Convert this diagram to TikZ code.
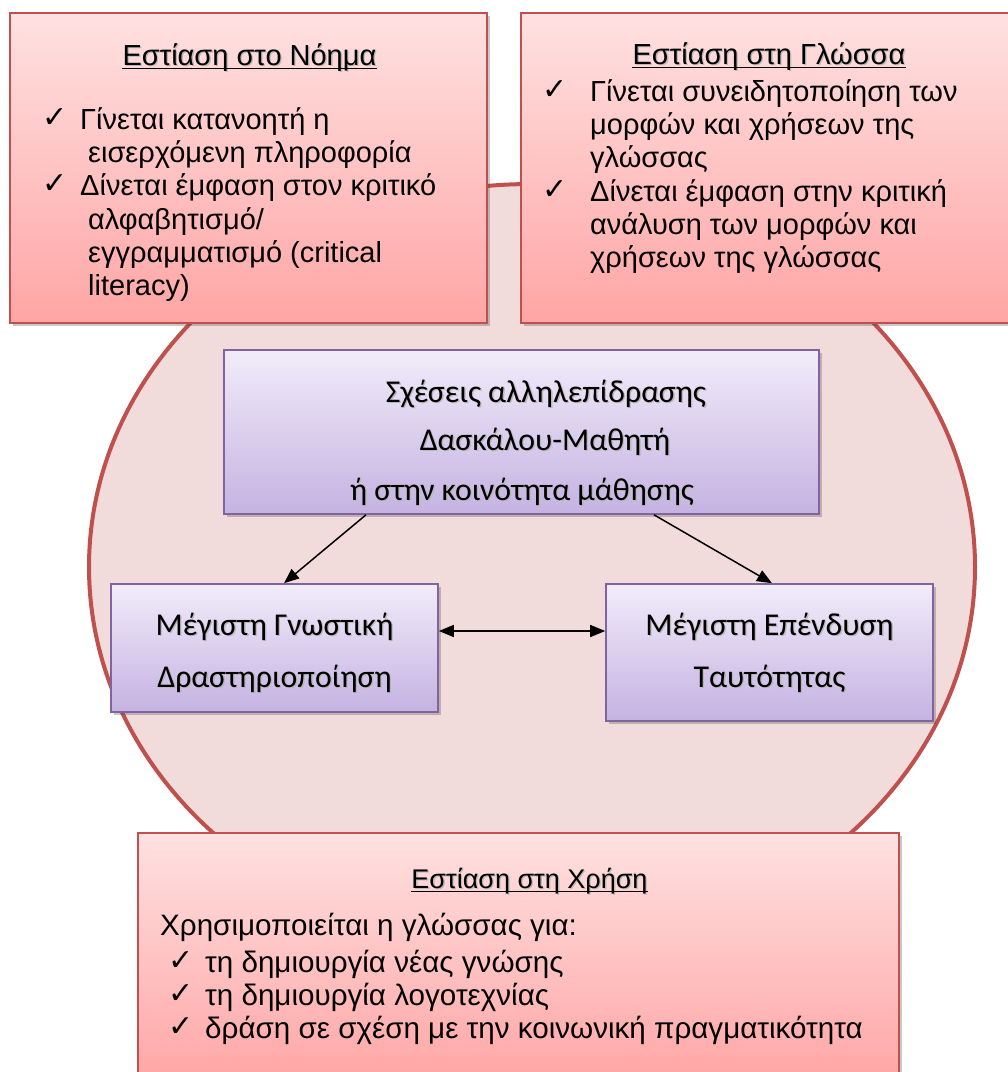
\documentclass[tikz,border=0pt]{standalone}
\usepackage{fontspec}
\setmainfont{Liberation Sans}
\newfontfamily\calfont{Carlito}
\newfontfamily\symfont{DejaVu Sans}
\usetikzlibrary{shadows,calc,arrows.meta}
\definecolor{redline}{HTML}{C0504D}
\definecolor{ellfill}{HTML}{F2DCDB}
\definecolor{pinktop}{HTML}{FFE1E1}
\definecolor{pinkbot}{HTML}{FFA5A5}
\definecolor{purpline}{HTML}{8064A2}
\definecolor{purptop}{HTML}{F1ECF9}
\definecolor{purpbot}{HTML}{C5B2E2}
\newcommand\tsh[1]{\leavevmode\rlap{\kern1.3pt\raisebox{-1.3pt}{\color{black!28}#1}}#1}
\begin{document}
\begin{tikzpicture}[x=1pt,y=-1pt,
  pinkbox/.style={draw=redline, line width=1.6pt, top color=pinktop, bottom color=pinkbot,
    rectangle, inner sep=0pt,
    drop shadow={shadow xshift=3pt,shadow yshift=-3pt,opacity=0.3,fill=black!70}},
  purpbox/.style={draw=purpline, line width=1.6pt, top color=purptop, bottom color=purpbot,
    rectangle, inner sep=0pt,
    drop shadow={shadow xshift=3pt,shadow yshift=-3pt,opacity=0.3,fill=black!70}},
  body/.style={inner sep=0pt, anchor=base west, font=\fontsize{29}{33}\selectfont},
  bodyb/.style={inner sep=0pt, anchor=base west, font=\fontsize{29.6}{33}\selectfont},
  ttl/.style={inner sep=0pt, anchor=base, font=\fontsize{29}{33}\selectfont},
  chk/.style={inner sep=0pt, anchor=base west, font=\symfont\fontsize{30}{33}\selectfont},
  ctr/.style={inner sep=0pt, anchor=base, font=\calfont\fontsize{31.8}{36}\selectfont},
  ul/.style={line width=1.8pt},
  arr/.style={line width=1.5pt, -{Triangle[length=15pt,width=12pt]}},
  darr/.style={line width=1.5pt, {Triangle[length=15pt,width=12pt]}-{Triangle[length=15pt,width=12pt]}}
]
\useasboundingbox (0,0) rectangle (1008,1072);
\fill[white] (0,0) rectangle (1008,1072);

% big ellipse
\draw[redline, fill=ellfill, line width=4pt] (532,567) ellipse [x radius=443pt, y radius=383pt];

% top-left box
\node[pinkbox, minimum width=477pt, minimum height=310pt] (nl) at (248.5,168) {};
\node[ttl] (nlt) at (249.5,65) {\tsh{Εστίαση στο Νόημα}};
\draw[ul] ($(nlt.base west)+(0,3.5)$) -- ($(nlt.base east)+(0,3.5)$);
\node[chk] (nlc1) at (42,127) {✓};
\node[chk] (nlc2) at (42,193) {✓};
\node[body] (nl1) at (80,129) {Γίνεται κατανοητή η};
\node[body] (nl2) at (88,162) {εισερχόμενη πληροφορία};
\node[body] (nl3) at (80,195) {Δίνεται έμφαση στον κριτικό};
\node[body] (nl4) at (88,229) {αλφαβητισμό/};
\node[body] (nl5) at (88,262) {εγγραμματισμό (critical};
\node[body] (nl6) at (88,295) {literacy)};

% top-right box
\node[pinkbox, minimum width=491pt, minimum height=310pt] (gl) at (766.5,168) {};
\node[ttl] (glt) at (769,64) {\tsh{Εστίαση στη Γλώσσα}};
\draw[ul] ($(glt.base west)+(0,3.5)$) -- ($(glt.base east)+(0,3.5)$);
\node[chk] (glc1) at (542,99) {✓};
\node[chk] (glc2) at (542,199) {✓};
\node[body] (gl1) at (590,101) {Γίνεται συνειδητοποίηση των};
\node[body] (gl2) at (590,134) {μορφών και χρήσεων της};
\node[body] (gl3) at (590,167) {γλώσσας};
\node[body] (gl4) at (590,201) {Δίνεται έμφαση στην κριτική};
\node[body] (gl5) at (590,234) {ανάλυση των μορφών και};
\node[body] (gl6) at (590,267) {χρήσεων της γλώσσας};

% bottom box
\node[pinkbox, minimum width=761pt, minimum height=250pt] (xr) at (518.5,958) {};
\node[ttl, font=\fontsize{27}{33}\selectfont] (xrt) at (529.5,888) {\tsh{Εστίαση στη Χρήση}};
\draw[ul] ($(xrt.base west)+(0,3.5)$) -- ($(xrt.base east)+(0,3.5)$);
\node[bodyb] (xr0) at (160,935) {Χρησιμοποιείται η γλώσσας για:};
\node[chk] (xrc1) at (168,970) {✓};
\node[chk] (xrc2) at (168,1003) {✓};
\node[chk] (xrc3) at (168,1036) {✓};
\node[bodyb] (xr1) at (205,972) {τη δημιουργία νέας γνώσης};
\node[bodyb] (xr2) at (205,1005) {τη δημιουργία λογοτεχνίας};
\node[bodyb] (xr3) at (205,1038) {δράση σε σχέση με την κοινωνική πραγματικότητα};

% center boxes
\node[purpbox, minimum width=595pt, minimum height=164pt] (sx) at (521.5,432) {};
\node[ctr] (sx1) at (546,402) {\tsh{Σχέσεις αλληλεπίδρασης}};
\node[ctr] (sx2) at (545,450) {\tsh{Δασκάλου-Μαθητή}};
\node[ctr] (sx3) at (522,500) {\tsh{ή στην κοινότητα μάθησης}};

\node[purpbox, minimum width=327pt, minimum height=128pt] (gn) at (274.5,648) {};
\node[ctr] (gn1) at (274.5,635) {\tsh{Μέγιστη Γνωστική}};
\node[ctr] (gn2) at (274.5,687) {\tsh{Δραστηριοποίηση}};

\node[purpbox, minimum width=327pt, minimum height=137pt] (ep) at (769.5,652.5) {};
\node[ctr] (ep1) at (769.5,635) {\tsh{Μέγιστη Επένδυση}};
\node[ctr] (ep2) at (769.5,687) {\tsh{Ταυτότητας}};

% connectors
\draw[arr] ([xshift=-155.5pt]sx.south) -- ([xshift=9.5pt]gn.north);
\draw[arr] ([xshift=132.5pt]sx.south) -- ([xshift=2.5pt]ep.north);
\draw[darr] (gn.east |- 0,631) -- (ep.west |- 0,631);
\end{tikzpicture}
\end{document}
